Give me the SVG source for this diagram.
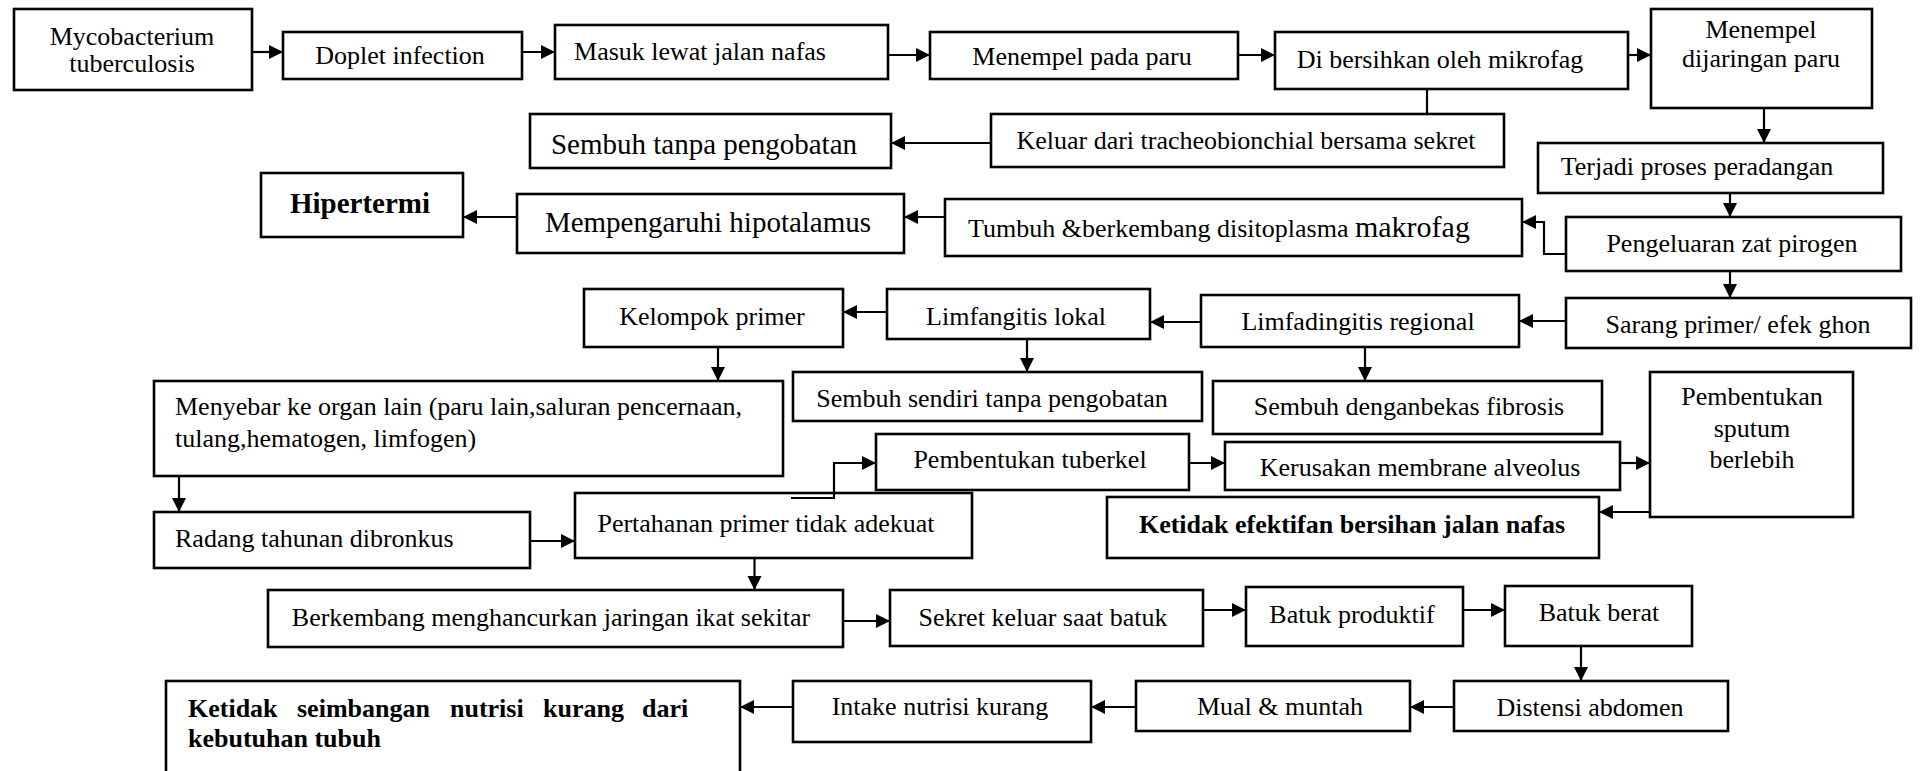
<svg xmlns="http://www.w3.org/2000/svg" width="1923" height="771" viewBox="0 0 1923 771">
<defs>
<style>
.b{fill:#fff;stroke:#000;stroke-width:2.6}
.t{font-family:"Liberation Serif","Times New Roman",serif;font-size:26px;fill:#000;text-anchor:middle}
.l{text-anchor:start}
.bd{font-weight:bold}
.c{fill:none;stroke:#000;stroke-width:2.2}
.a{marker-end:url(#ah)}
</style>
<marker id="ah" markerUnits="userSpaceOnUse" markerWidth="15" markerHeight="15" refX="14" refY="7" orient="auto">
<path d="M0,0 L14,7 L0,14 z" fill="#000"/>
</marker>
</defs>
<rect width="1923" height="771" fill="#fff"/>
<g id="connectors">
<path class="c a" d="M252,52 H283"/>
<path class="c a" d="M522,52 H555"/>
<path class="c a" d="M888,55 H930"/>
<path class="c a" d="M1238,55 H1275"/>
<path class="c a" d="M1628,55 H1651"/>
<path class="c" d="M1427,89 V114"/>
<path class="c a" d="M991,143 H891"/>
<path class="c a" d="M1764,108 V143"/>
<path class="c a" d="M1730,193 V217"/>
<path class="c a" d="M1566,254 H1544 V222 H1522"/>
<path class="c a" d="M945,217 H904"/>
<path class="c a" d="M517,217 H463"/>
<path class="c a" d="M1730,271 V298"/>
<path class="c a" d="M1566,321 H1519"/>
<path class="c a" d="M1201,322 H1150"/>
<path class="c a" d="M887,312 H843"/>
<path class="c a" d="M718,347 V381"/>
<path class="c a" d="M1027,339 V372"/>
<path class="c a" d="M1365,347 V381"/>
<path class="c a" d="M179,476 V512"/>
<path class="c a" d="M530,541 H575"/>
<path class="c a" d="M1189,463 H1225"/>
<path class="c a" d="M1620,463 H1650"/>
<path class="c a" d="M1650,512 H1599"/>
<path class="c a" d="M754.5,558 V590"/>
<path class="c a" d="M843,621 H890"/>
<path class="c a" d="M1203,610 H1246"/>
<path class="c a" d="M1463,610 H1505"/>
<path class="c a" d="M1581,646 V681"/>
<path class="c a" d="M1454,707 H1410"/>
<path class="c a" d="M1136,707 H1091"/>
<path class="c a" d="M793,707 H740"/>
</g>
<g id="n1"><rect class="b" x="14" y="9" width="238" height="81"/><text class="t"><tspan x="132" y="45">Mycobacterium</tspan><tspan x="132" y="72">tuberculosis</tspan></text></g>
<g id="n2"><rect class="b" x="283" y="32" width="239" height="47"/><text class="t" x="400" y="64">Doplet infection</text></g>
<g id="n3"><rect class="b" x="555" y="25" width="333" height="54"/><text class="t" x="700" y="60">Masuk lewat jalan nafas</text></g>
<g id="n4"><rect class="b" x="930" y="32" width="308" height="47"/><text class="t" x="1082" y="65">Menempel pada paru</text></g>
<g id="n5"><rect class="b" x="1275" y="32" width="353" height="57"/><text class="t" x="1440" y="68">Di bersihkan oleh mikrofag</text></g>
<g id="n6"><rect class="b" x="1651" y="9" width="221" height="99"/><text class="t"><tspan x="1761" y="38">Menempel</tspan><tspan x="1761" y="67">dijaringan paru</tspan></text></g>
<g id="n7"><rect class="b" x="991" y="114" width="513" height="53"/><text class="t" x="1246" y="149">Keluar dari tracheobionchial bersama sekret</text></g>
<g id="n8"><rect class="b" x="530" y="114" width="361" height="54"/><text class="t" x="704" y="154" style="font-size:29px">Sembuh tanpa pengobatan</text></g>
<g id="n9"><rect class="b" x="1538" y="143" width="345" height="50"/><text class="t" x="1697" y="175">Terjadi proses peradangan</text></g>
<g id="n10"><rect class="b" x="261" y="173" width="202" height="64"/><text class="t bd" x="360" y="213" style="font-size:29px">Hipertermi</text></g>
<g id="n11"><rect class="b" x="517" y="194" width="387" height="59"/><text class="t" x="708" y="232" style="font-size:29px">Mempengaruhi hipotalamus</text></g>
<g id="n12"><rect class="b" x="945" y="199" width="577" height="57"/><text class="t" x="1219" y="237">Tumbuh &amp;berkembang disitoplasma <tspan style="font-size:30px">makrofag</tspan></text></g>
<g id="n13"><rect class="b" x="1566" y="217" width="335" height="54"/><text class="t" x="1732" y="252">Pengeluaran zat pirogen</text></g>
<g id="n14"><rect class="b" x="1566" y="298" width="345" height="50"/><text class="t" x="1738" y="333">Sarang primer/ efek ghon</text></g>
<g id="n15"><rect class="b" x="1201" y="295" width="318" height="52"/><text class="t" x="1358" y="330">Limfadingitis regional</text></g>
<g id="n16"><rect class="b" x="887" y="289" width="263" height="50"/><text class="t" x="1016" y="325">Limfangitis lokal</text></g>
<g id="n17"><rect class="b" x="584" y="289" width="259" height="58"/><text class="t" x="712" y="325">Kelompok primer</text></g>
<g id="n18"><rect class="b" x="793" y="372" width="409" height="49"/><text class="t" x="992" y="407">Sembuh sendiri tanpa pengobatan</text></g>
<g id="n19"><rect class="b" x="1213" y="381" width="389" height="53"/><text class="t" x="1409" y="415">Sembuh denganbekas fibrosis</text></g>
<g id="n20"><rect class="b" x="154" y="381" width="629" height="95"/><text class="t l"><tspan x="175" y="415">Menyebar ke organ lain (paru lain,saluran pencernaan,</tspan><tspan x="175" y="447">tulang,hematogen, limfogen)</tspan></text></g>
<g id="n21"><rect class="b" x="1650" y="372" width="203" height="145"/><text class="t"><tspan x="1752" y="405">Pembentukan</tspan><tspan x="1752" y="437">sputum</tspan><tspan x="1752" y="468">berlebih</tspan></text></g>
<g id="n22"><rect class="b" x="876" y="434" width="313" height="56"/><text class="t" x="1030" y="468">Pembentukan tuberkel</text></g>
<g id="n23"><rect class="b" x="1225" y="442" width="395" height="48"/><text class="t" x="1420" y="476">Kerusakan membrane alveolus</text></g>
<g id="n24"><rect class="b" x="1107" y="497" width="492" height="61"/><text class="t bd" x="1352" y="533">Ketidak efektifan bersihan jalan nafas</text></g>
<g id="n25"><rect class="b" x="154" y="512" width="376" height="56"/><text class="t l" x="175" y="547">Radang tahunan dibronkus</text></g>
<g id="n26"><rect class="b" x="575" y="493" width="397" height="65"/><text class="t" x="766" y="532">Pertahanan primer tidak adekuat</text></g>
<path class="c a" d="M791,498 H834 V463 H876"/>
<g id="n27"><rect class="b" x="268" y="590" width="575" height="57"/><text class="t" x="551" y="626">Berkembang menghancurkan jaringan ikat sekitar</text></g>
<g id="n28"><rect class="b" x="890" y="590" width="313" height="56"/><text class="t" x="1043" y="626">Sekret keluar saat batuk</text></g>
<g id="n29"><rect class="b" x="1246" y="587" width="217" height="59"/><text class="t" x="1352" y="623">Batuk produktif</text></g>
<g id="n30"><rect class="b" x="1505" y="586" width="187" height="60"/><text class="t" x="1599" y="621">Batuk berat</text></g>
<g id="n31"><rect class="b" x="1454" y="681" width="274" height="50"/><text class="t" x="1590" y="716">Distensi abdomen</text></g>
<g id="n32"><rect class="b" x="1136" y="681" width="274" height="50"/><text class="t" x="1280" y="715">Mual &amp; muntah</text></g>
<g id="n33"><rect class="b" x="793" y="681" width="298" height="61"/><text class="t" x="940" y="715">Intake nutrisi kurang</text></g>
<g id="n34"><rect class="b" x="166" y="681" width="574" height="110"/><text class="t bd l" y="717"><tspan x="188">Ketidak</tspan><tspan x="297">seimbangan</tspan><tspan x="450">nutrisi</tspan><tspan x="543">kurang</tspan><tspan x="642">dari</tspan></text><text class="t bd l" x="188" y="747">kebutuhan tubuh</text></g>
</svg>
